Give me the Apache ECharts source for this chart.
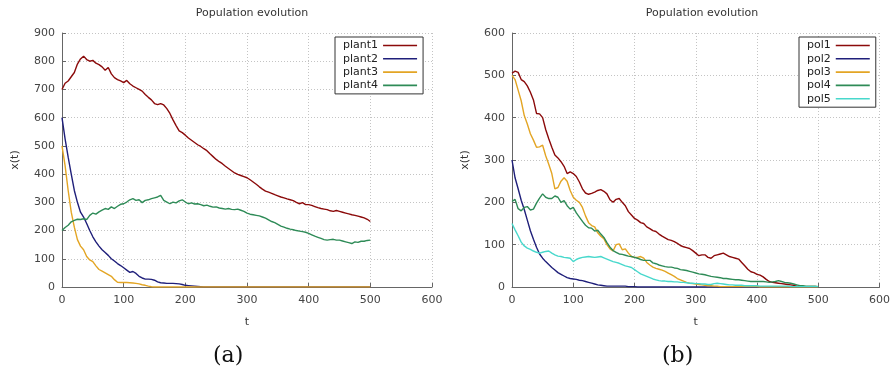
<!DOCTYPE html>
<html>
<head>
<meta charset="utf-8">
<script src="https://cdn.jsdelivr.net/npm/echarts@6/dist/echarts.min.js"></script>
<style>
  html, body { margin: 0; padding: 0; background: #fff; }
  #chart { width: 893px; height: 378px; }
</style>
</head>
<body>
<div id="chart"></div>
<script>
// Sampling times (t), shared by every series
const T = [
  0,5,10,15,20,25,30,35,40,45,
  50,55,60,65,70,75,80,85,90,95,
  100,105,110,115,120,125,130,135,140,145,
  150,155,160,165,170,175,180,185,190,195,
  200,205,210,215,220,225,230,235,240,245,
  250,255,260,265,270,275,280,285,290,295,
  300,305,310,315,320,325,330,335,340,345,
  350,355,360,365,370,375,380,385,390,395,
  400,405,410,415,420,425,430,435,440,445,
  450,455,460,465,470,475,480,485,490,495,
  500
];

// Panel (a): plant populations
const plant1 = [
  700,722,730,745,760,790,808,818,806,800,
  803,793,788,780,768,778,755,742,735,730,
  724,732,720,712,706,700,694,682,672,663,
  650,646,650,645,632,615,592,572,553,547,
  538,528,520,512,504,498,490,483,472,462,
  452,444,437,428,420,412,404,399,395,391,
  387,380,372,364,355,347,340,336,332,327,
  323,319,316,312,309,306,300,295,299,292,
  292,289,285,281,278,276,274,270,268,271,
  268,265,262,259,256,254,251,248,245,240,
  232
];
const plant2 = [
  600,525,460,400,342,300,265,248,225,200,
  178,160,145,132,122,112,100,92,83,76,
  68,60,52,55,48,38,32,28,28,27,
  24,18,15,14,13,13,13,12,11,9,
  6,5,4,3,2,1,0,0,0,0,
  0,0,0,0,0,0,0,0,0,0,
  0,0,0,0,0,0,0,0,0,0,
  0,0,0,0,0,0,0,0,0,0,
  0,0,0,0,0,0,0,0,0,0,
  0,0,0,0,0,0,0,0,0,0,
  0
];
const plant3 = [
  500,430,342,265,212,168,145,132,108,96,
  90,75,62,56,50,44,38,26,17,16,
  16,16,15,14,13,11,8,6,3,1,
  0,0,0,0,0,0,0,0,0,0,
  0,0,0,0,0,0,0,0,0,0,
  0,0,0,0,0,0,0,0,0,0,
  0,0,0,0,0,0,0,0,0,0,
  0,0,0,0,0,0,0,0,0,0,
  0,0,0,0,0,0,0,0,0,0,
  0,0,0,0,0,0,0,0,0,0,
  0
];
const plant4 = [
  200,211,219,231,236,240,239,242,239,254,
  262,258,266,272,278,275,284,278,286,293,
  295,301,309,313,307,309,299,307,309,313,
  316,319,325,307,301,295,301,298,305,309,
  301,295,298,294,295,292,288,290,286,283,
  284,280,278,276,278,275,274,276,272,268,
  262,258,256,254,252,248,244,238,232,228,
  222,216,212,208,205,203,200,198,196,194,
  190,185,180,176,172,168,166,168,169,166,
  166,163,160,157,154,160,158,162,162,165,
  166
];

// Panel (b): pollinator populations
const pol1 = [
  505,510,507,490,485,475,460,442,410,409,
  400,372,350,330,312,305,296,285,268,272,
  268,261,248,232,222,219,221,224,228,230,
  226,220,206,200,207,209,200,192,178,170,
  162,158,152,150,142,138,133,131,125,120,
  116,112,110,107,103,98,95,93,91,86,
  80,74,76,76,70,68,74,76,78,80,
  76,72,70,68,66,58,50,42,36,34,
  30,28,24,18,13,11,10,9,8,7,
  6,5,4,2,1,1,0,0,0,0,
  0
];
const pol2 = [
  300,258,232,205,183,158,133,113,94,78,
  68,60,53,46,40,34,30,26,22,20,
  19,18,16,15,13,11,9,7,5,4,
  3,2,2,2,2,2,2,2,1,1,
  1,0,0,0,0,0,0,0,0,0,
  0,0,0,0,0,0,0,0,0,0,
  0,0,0,0,0,0,0,0,0,0,
  0,0,0,0,0,0,0,0,0,0,
  0,0,0,0,0,0,0,0,0,0,
  0,0,0,0,0,0,0,0,0,0,
  0
];
const pol3 = [
  500,490,465,440,405,385,362,347,330,331,
  335,310,290,268,232,235,250,258,250,228,
  212,205,200,188,168,152,145,142,128,120,
  114,100,90,85,100,102,88,90,80,72,
  70,70,72,68,58,52,47,44,42,40,
  37,33,29,25,20,17,14,11,9,8,
  7,6,5,4,3,3,2,2,1,1,
  1,1,1,1,1,1,1,1,1,1,
  1,0,0,0,0,0,0,0,0,0,
  0,0,0,0,0,0,0,0,0,0,
  0
];
const pol4 = [
  202,207,185,180,188,190,182,184,198,210,
  220,212,209,209,215,212,200,204,192,184,
  188,175,165,155,146,140,139,132,134,125,
  117,105,94,86,82,78,77,75,73,72,
  70,68,65,63,63,63,57,55,52,50,
  48,47,47,45,44,41,40,39,37,35,
  33,31,30,29,27,25,24,23,22,20,
  20,19,18,17,17,16,15,14,13,13,
  13,13,13,12,11,12,13,15,13,11,
  10,9,7,5,3,3,2,2,2,2,
  1
];
const pol5 = [
  150,135,121,106,97,92,89,85,82,80,
  82,84,85,80,76,73,72,70,69,68,
  60,65,68,70,71,72,71,70,71,72,
  69,66,63,60,58,56,53,50,48,46,
  41,36,31,28,25,22,19,17,15,14,
  14,13,13,12,12,11,11,10,9,9,
  8,8,7,7,6,6,8,9,8,7,
  6,5,5,4,4,4,3,3,3,3,
  3,2,2,2,2,2,2,2,2,2,
  2,1,1,1,1,1,1,1,1,1,
  1
];

const plantNames = ['plant1', 'plant2', 'plant3', 'plant4'];
const polNames = ['pol1', 'pol2', 'pol3', 'pol4', 'pol5'];
const titleText = 'Population evolution';
const captions = ['(a)', '(b)'];

const COLORS = ['#8b0a0a', '#1f1f7a', '#e3a524', '#2e8b57', '#48d8cc'];
const FONT = 'DejaVu Sans';

function pairs(values) {
  return values.map((v, i) => [T[i], v]);
}

function xAxis(gridIndex) {
  return {
    type: 'value', gridIndex, min: 0, max: 600, interval: 100,
    name: 't', nameLocation: 'middle', nameGap: 30,
    nameTextStyle: { fontFamily: FONT, fontSize: 11, color: '#333' },
    axisLine: { show: true, onZero: false, lineStyle: { color: '#666', width: 1 } },
    axisTick: { show: true, inside: true, length: 4, lineStyle: { color: '#666' } },
    axisLabel: { fontFamily: FONT, fontSize: 11, color: '#444', margin: 8 },
    splitLine: { show: true, lineStyle: { color: '#c4c4c4', type: [1, 2], width: 1 } }
  };
}
function yAxis(gridIndex, max) {
  return {
    type: 'value', gridIndex, min: 0, max, interval: 100,
    name: 'x(t)', nameLocation: 'middle', nameGap: 41, nameRotate: 90,
    nameTextStyle: { fontFamily: FONT, fontSize: 11, color: '#333' },
    axisLine: { show: true, lineStyle: { color: '#666', width: 1 } },
    axisTick: { show: true, inside: true, length: 4, lineStyle: { color: '#666' } },
    axisLabel: { fontFamily: FONT, fontSize: 11, color: '#444', margin: 7 },
    splitLine: { show: true, lineStyle: { color: '#c4c4c4', type: [1, 2], width: 1 } }
  };
}
function line(name, values, idx, color) {
  return {
    type: 'line', name, data: pairs(values),
    xAxisIndex: idx, yAxisIndex: idx,
    symbol: 'none', showSymbol: false,
    lineStyle: { color, width: 1.4 },
    itemStyle: { color },
    emphasis: { disabled: true }
  };
}
function legend(names, left) {
  return {
    data: names, orient: 'vertical', left, top: 37,
    align: 'right', icon: 'rect', itemWidth: 34, itemHeight: 1.6, itemGap: 0.3,
    padding: [2, 6, 2, 8],
    borderColor: '#333', borderWidth: 1, backgroundColor: '#fff',
    textStyle: { fontFamily: FONT, fontSize: 11, color: '#222', lineHeight: 13 },
    selectedMode: false
  };
}

const chart = echarts.init(document.getElementById('chart'), null, { renderer: 'canvas' });
chart.setOption({
  animation: false,
  backgroundColor: '#fff',
  title: [
    { text: titleText, left: 247, top: 3, textAlign: 'center',
      textStyle: { fontFamily: FONT, fontSize: 11, fontWeight: 'normal', color: '#333' } },
    { text: titleText, left: 697, top: 3, textAlign: 'center',
      textStyle: { fontFamily: FONT, fontSize: 11, fontWeight: 'normal', color: '#333' } }
  ],
  grid: [
    { left: 62, top: 33, width: 370, height: 254 },
    { left: 512, top: 33, width: 370, height: 254 }
  ],
  xAxis: [xAxis(0), xAxis(1)],
  yAxis: [yAxis(0, 900), yAxis(1, 600)],
  legend: [legend(plantNames, 335), legend(polNames, 799)],
  graphic: [
    { type: 'text', left: 213, top: 345,
      style: { text: captions[0], font: '22px "DejaVu Serif"', fill: '#111' } },
    { type: 'text', left: 662, top: 345,
      style: { text: captions[1], font: '22px "DejaVu Serif"', fill: '#111' } }
  ],
  series: [
    line(plantNames[0], plant1, 0, COLORS[0]),
    line(plantNames[1], plant2, 0, COLORS[1]),
    line(plantNames[2], plant3, 0, COLORS[2]),
    line(plantNames[3], plant4, 0, COLORS[3]),
    line(polNames[0], pol1, 1, COLORS[0]),
    line(polNames[1], pol2, 1, COLORS[1]),
    line(polNames[2], pol3, 1, COLORS[2]),
    line(polNames[3], pol4, 1, COLORS[3]),
    line(polNames[4], pol5, 1, COLORS[4])
  ]
});
</script>
</body>
</html>
